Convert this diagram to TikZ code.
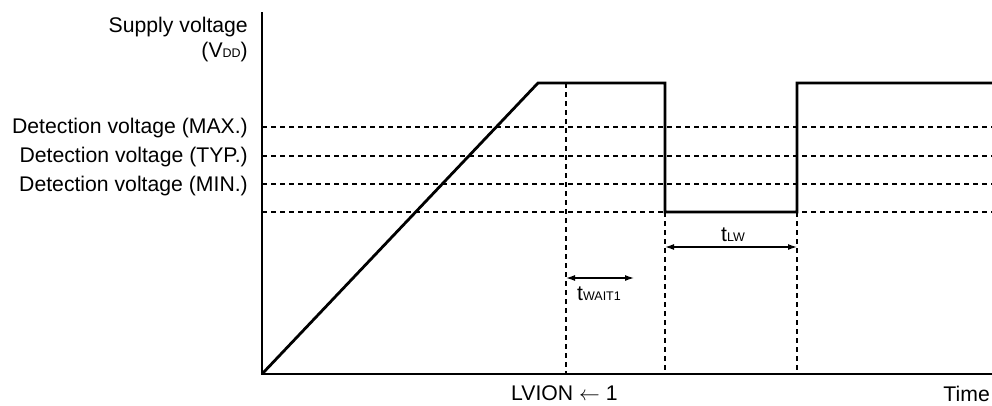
\documentclass[tikz,border=0pt]{standalone}
\usepackage{fontspec}
\setmainfont{Liberation Sans}
\usetikzlibrary{arrows.meta}
\begin{document}
\begin{tikzpicture}[x=1pt,y=-1pt,
  lbl/.style={inner sep=0pt,font=\fontsize{21.2}{25}\selectfont},
  axisline/.style={line width=2.8pt},
  sig/.style={line width=2.8pt,line join=miter},
  guide/.style={line width=1.2pt,dash pattern=on 5pt off 4pt},
  dim/.style={line width=1.3pt,{Latex[length=9pt,width=6pt]}-{Latex[length=9pt,width=6pt]}}]
\useasboundingbox (0,0) rectangle (992,405);
% coordinates
\coordinate (O) at (262,374);
\coordinate (Ytop) at (262,12);
\coordinate (Xend) at (992,374);
\coordinate (P1) at (538,83);
\coordinate (P2) at (665,83);
\coordinate (P3) at (665,212);
\coordinate (P4) at (797,212);
\coordinate (P5) at (797,83);
\coordinate (P6) at (992,83);
% dashed levels
\foreach \yy/\nm in {127/max,156/typ,184/min,212/low}{
  \coordinate (\nm L) at (262,\yy);
  \coordinate (\nm R) at (992,\yy);
  \draw[guide] (\nm L) -- (\nm R);
}
% vertical guides
\coordinate (V1t) at (566,83);
\coordinate (V1b) at (566,374);
\coordinate (V2b) at (665,374);
\coordinate (V3b) at (797,374);
\draw[guide] (V1t) -- (V1b);
\draw[guide] (P3) -- (V2b);
\draw[guide] (P4) -- (V3b);
% axes
\draw[axisline] (Ytop) -- (O) -- (Xend);
% waveform
\draw[sig] (O) -- (P1) -- (P2) -- (P3) -- (P4) -- (P5) -- (P6);
% dimension arrows
\coordinate (A1) at (566,278);
\coordinate (A2) at (634,278);
\coordinate (B1) at (665,247);
\coordinate (B2) at (797,247);
\draw[dim] (A1) -- (A2);
\draw[dim] (B1) -- (B2);
% labels
\node[lbl,anchor=base east] (ysup) at (248,32) {Supply voltage};
\node[lbl,anchor=base east] (yvdd) at (248,57) {(V{\fontsize{12.5}{14}\selectfont DD})};
\node[lbl,anchor=base east] (lmax) at (248,133) {Detection voltage (MAX.)};
\node[lbl,anchor=base east] (ltyp) at (248,162) {Detection voltage (TYP.)};
\node[lbl,anchor=base east] (lmin) at (248,191) {Detection voltage (MIN.)};
\node[lbl,anchor=base west] (twait) at (577,300) {t{\fontsize{12.5}{14}\selectfont WAIT1}};
\node[lbl,anchor=base] (tlw) at (733,241) {t{\fontsize{12.5}{14}\selectfont LW}};
\node[lbl,anchor=base west] (lvion) at (511,400) {LVION $\leftarrow$ 1};
\node[lbl,anchor=base east] (time) at (990,401) {Time};
\end{tikzpicture}
\end{document}
